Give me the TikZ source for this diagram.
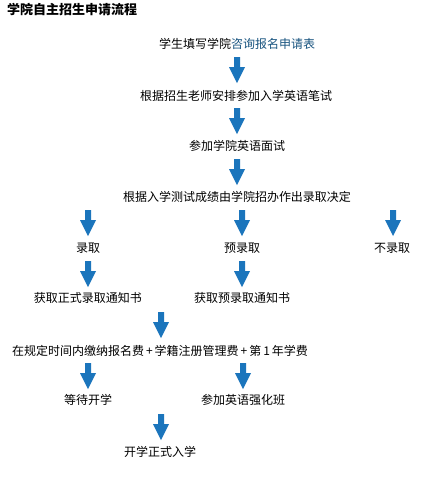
\documentclass[tikz,border=0pt]{standalone}
\usepackage{fontspec}
\setmainfont{Noto Sans CJK SC}
\definecolor{arrowblue}{RGB}{27,117,188}
\definecolor{linkblue}{RGB}{24,84,128}
\tikzset{
  lbl/.style={inner sep=0pt, font=\fontsize{12}{13}\selectfont, text=black},
  dnarrow/.pic={
    \fill[arrowblue] (-3,0) -- (3,0) -- (3,10) -- (8,10) -- (0,26) -- (-8,10) -- (-3,10) -- cycle;
  }
}
\begin{document}
\begin{tikzpicture}[x=1pt,y=-1pt]
\useasboundingbox[fill=white] (0,0) rectangle (428,480);
\node[anchor=west, inner sep=0pt, font=\fontsize{13}{14}\selectfont\bfseries] (title) at (7,9) {学院自主招生申请流程};

\node[lbl] (n1) at (237,44) {学生填写学院\textcolor{linkblue}{咨询报名申请表}};
\pic at (237,57) {dnarrow};
\node[lbl] (n2) at (236,96) {根据招生老师安排参加入学英语笔试};
\pic at (237,108) {dnarrow};
\node[lbl] (n3) at (237,146) {参加学院英语面试};
\pic at (237,159) {dnarrow};
\node[lbl] (n4) at (237,197) {根据入学测试成绩由学院招办作出录取决定};

\pic at (88,210) {dnarrow};
\pic at (242,210) {dnarrow};
\pic at (393,210) {dnarrow};
\node[lbl] (a1) at (88,248) {录取};
\node[lbl] (a2) at (242,248) {预录取};
\node[lbl] (a3) at (392,248) {不录取};

\pic at (88,261) {dnarrow};
\pic at (242,261) {dnarrow};
\node[lbl] (b1) at (88,298) {获取正式录取通知书};
\node[lbl] (b2) at (242,298) {获取预录取通知书};

\pic at (161,312) {dnarrow};
\node[lbl] (c) at (160,351) {在规定时间内缴纳报名费\,+\,学籍注册管理费\,+\,第\,1\,年学费};

\pic at (88,363) {dnarrow};
\pic at (243,363) {dnarrow};
\node[lbl] (d1) at (88,400) {等待开学};
\node[lbl] (d2) at (243,400) {参加英语强化班};

\pic at (161,414) {dnarrow};
\node[lbl] (e) at (160,452) {开学正式入学};
\end{tikzpicture}
\end{document}
